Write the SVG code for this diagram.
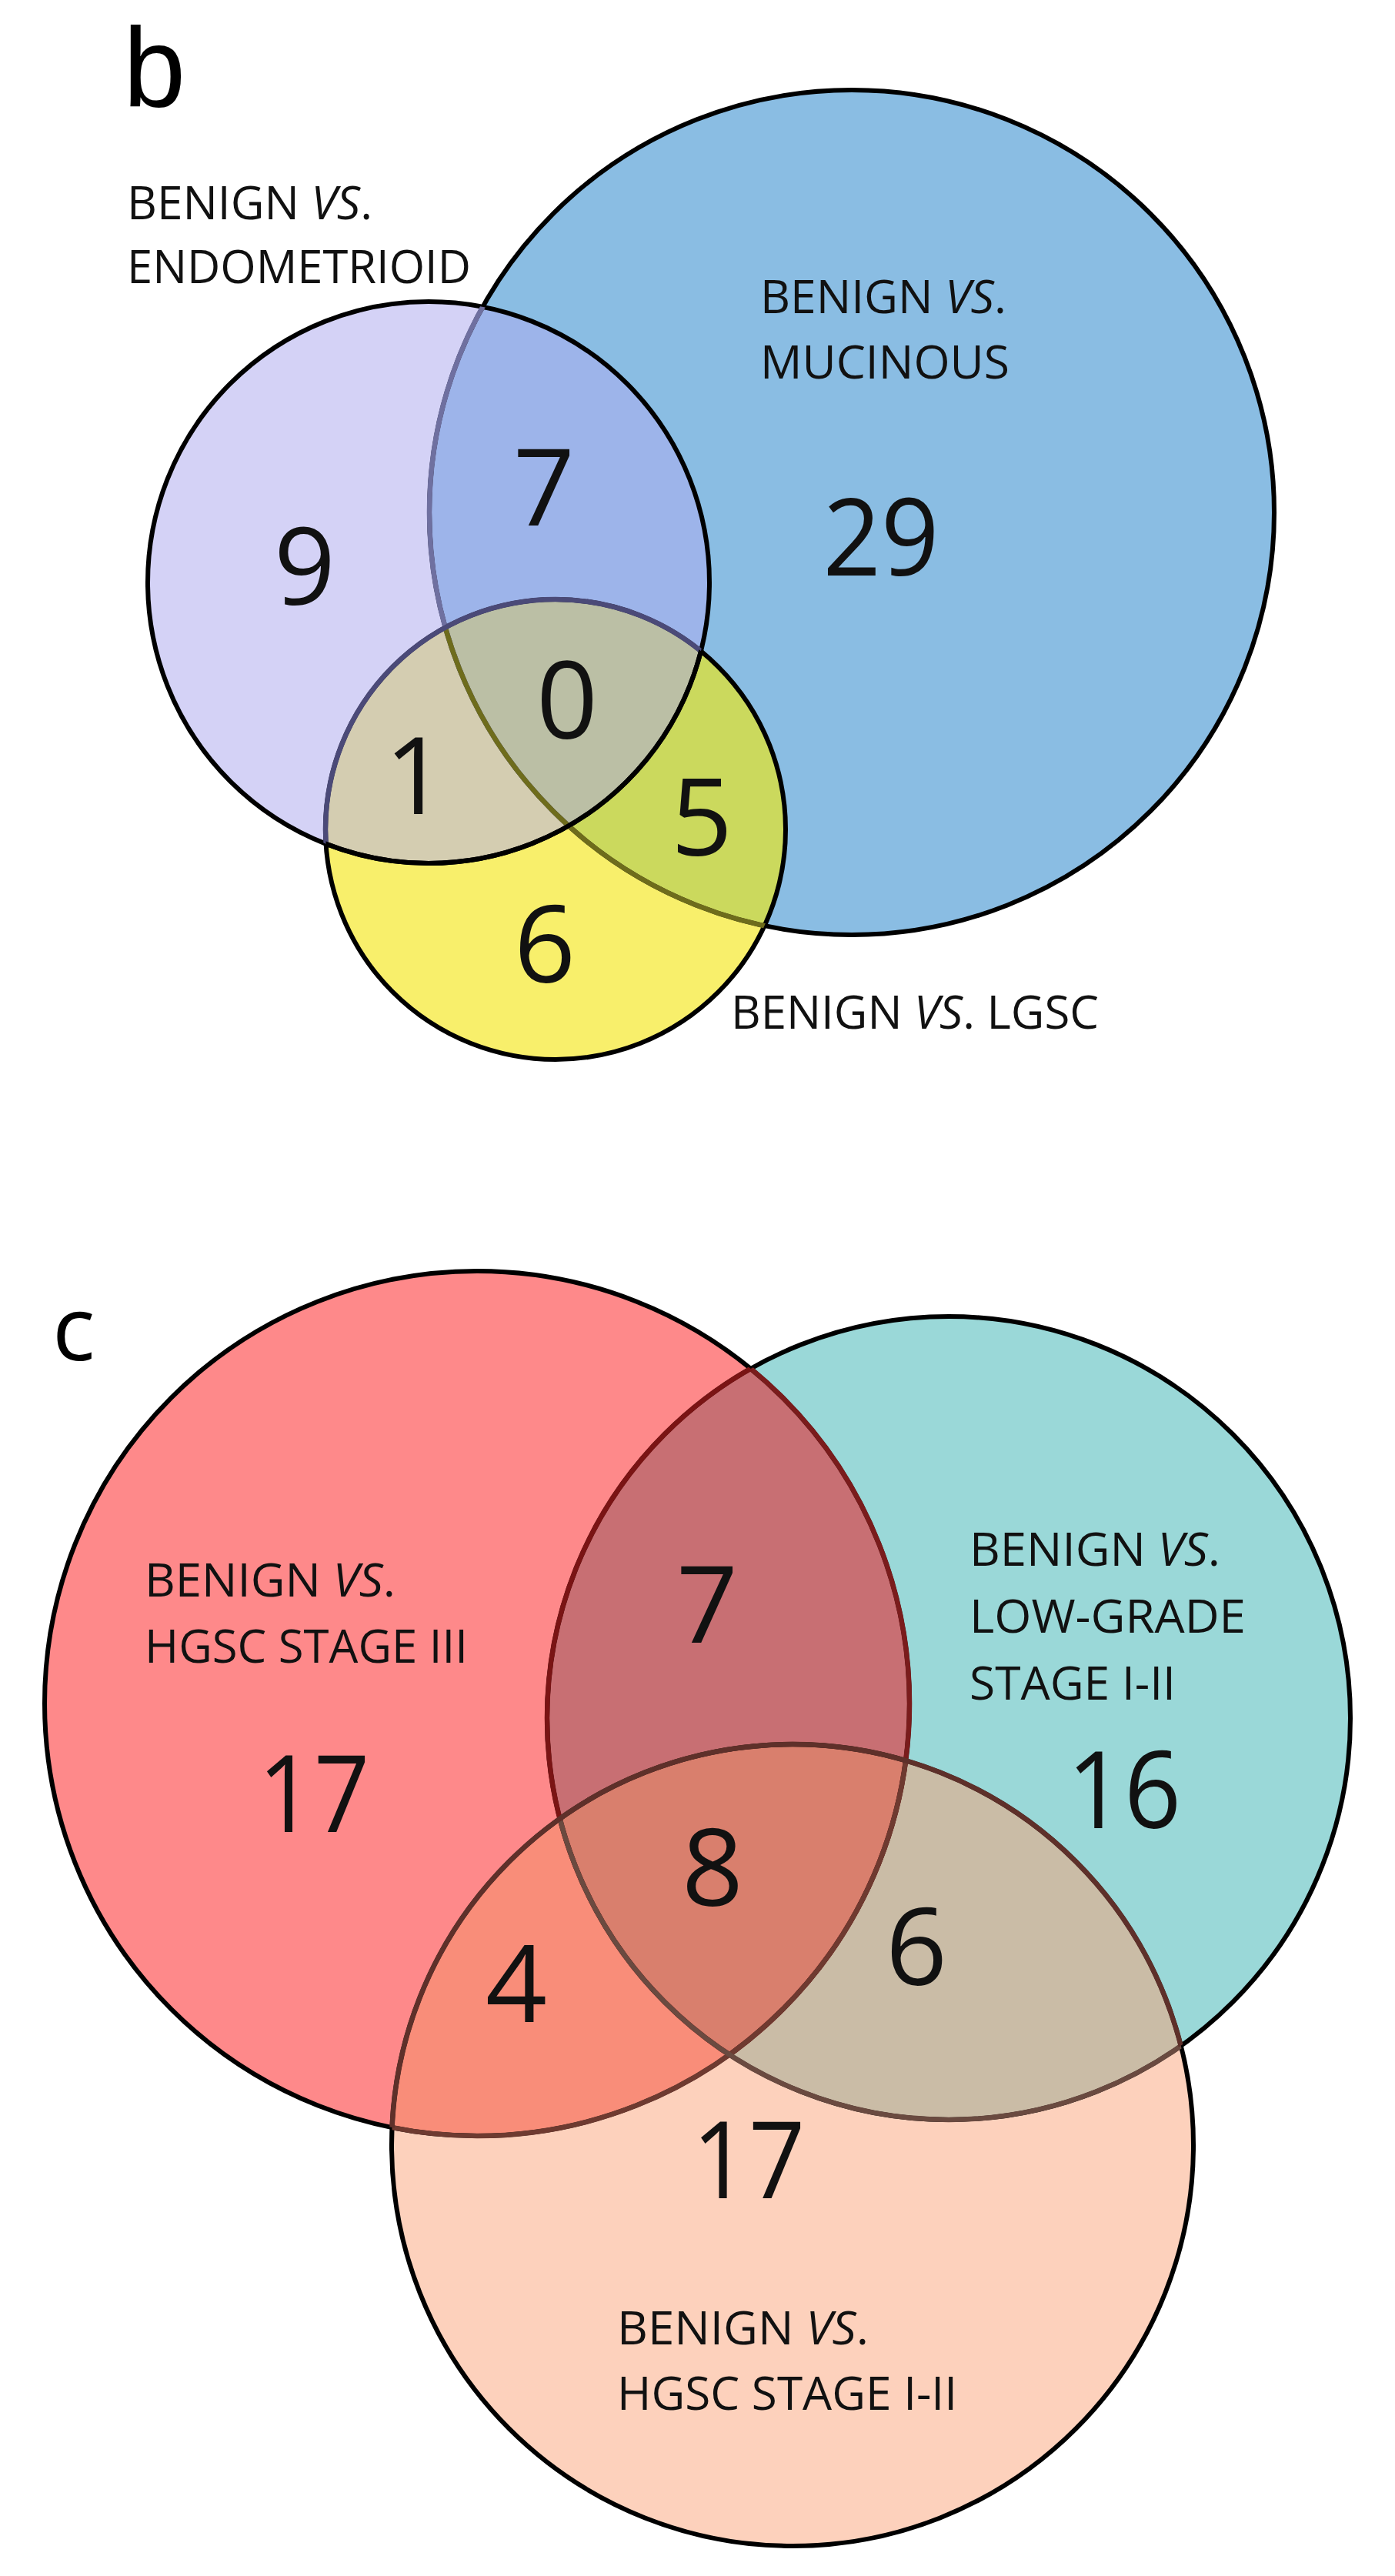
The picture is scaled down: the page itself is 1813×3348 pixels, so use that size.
<svg xmlns="http://www.w3.org/2000/svg" width="1813" height="3348" viewBox="0 0 1813 3348">
<style>
.lbl{font-family:"Open Sans","Liberation Sans",sans-serif;font-size:60px;fill:#111;}
.num{font-family:"Open Sans","Liberation Sans",sans-serif;font-size:140px;fill:#111;text-anchor:middle;}
.pan{fill:#000;}
.it{font-style:italic;}
.ol{fill:none;stroke:#000;stroke-width:6;}
</style>
<defs>
<clipPath id="cB"><circle cx="1107" cy="666" r="549"/></clipPath>
<clipPath id="cP"><circle cx="557" cy="757" r="365"/></clipPath>
<clipPath id="cY"><circle cx="722" cy="1078" r="299"/></clipPath>
<clipPath id="cR"><circle cx="620" cy="2214" r="562"/></clipPath>
<clipPath id="cT"><circle cx="1233" cy="2233" r="522"/></clipPath>
<clipPath id="cK"><circle cx="1030" cy="2788" r="521"/></clipPath>
</defs>
<rect width="1813" height="3348" fill="#fff"/>

<text class="pan" x="160" y="138" font-size="146" font-family="'Liberation Sans', Arial, sans-serif">b</text>
<text class="pan" x="68" y="1768" font-size="116" font-family="'Open Sans', 'Liberation Sans', sans-serif">c</text>

<!-- Panel b -->
<g id="mucinous">
<circle cx="1107" cy="666" r="549" fill="#8abde3"/>
</g>
<g id="endometrioid">
<circle cx="557" cy="757" r="365" fill="#d4d2f6"/>
</g>
<g id="lgsc">
<circle cx="722" cy="1078" r="299" fill="#f8ef6b"/>
</g>
<g id="overlaps-b">
<circle cx="557" cy="757" r="365" fill="#9db4ea" clip-path="url(#cB)"/>
<circle cx="722" cy="1078" r="299" fill="#cbd95d" clip-path="url(#cB)"/>
<circle cx="722" cy="1078" r="299" fill="#d4cdb1" clip-path="url(#cP)"/>
<g clip-path="url(#cB)"><circle cx="722" cy="1078" r="299" fill="#bbbfa5" clip-path="url(#cP)"/></g>
</g>
<g id="outlines-b">
<circle class="ol" cx="1107" cy="666" r="549"/>
<circle class="ol" cx="722" cy="1078" r="299"/>
<circle class="ol" cx="557" cy="757" r="365"/>
<circle cx="1107" cy="666" r="549" fill="none" stroke="#6f70a0" stroke-width="6.5" clip-path="url(#cP)"/>
<circle cx="1107" cy="666" r="549" fill="none" stroke="#6e6c1c" stroke-width="6.5" clip-path="url(#cY)"/>
<circle cx="722" cy="1078" r="299" fill="none" stroke="#4b4a78" stroke-width="6.5" clip-path="url(#cP)"/>
<circle cx="557" cy="757" r="365" fill="none" stroke="#000" stroke-width="6" clip-path="url(#cY)"/>
</g>

<g id="labels-b">
<text class="lbl" x="165" y="285" textLength="319" lengthAdjust="spacingAndGlyphs">BENIGN <tspan class="it">VS</tspan>.</text>
<text class="lbl" x="165" y="368" textLength="447" lengthAdjust="spacingAndGlyphs">ENDOMETRIOID</text>
<text class="lbl" x="988" y="407" textLength="320" lengthAdjust="spacingAndGlyphs">BENIGN <tspan class="it">VS</tspan>.</text>
<text class="lbl" x="988" y="492" textLength="324" lengthAdjust="spacingAndGlyphs">MUCINOUS</text>
<text class="lbl" x="950" y="1337" textLength="478" lengthAdjust="spacingAndGlyphs">BENIGN <tspan class="it">VS</tspan>. LGSC</text>
</g>
<g id="numbers-b">
<text class="num" x="396" y="786">9</text>
<text class="num" x="707" y="683">7</text>
<text class="num" x="1145" y="748" textLength="151" lengthAdjust="spacingAndGlyphs">29</text>
<text class="num" x="737" y="960">0</text>
<text class="num" x="540" y="1058">1</text>
<text class="num" x="912" y="1112">5</text>
<text class="num" x="708" y="1277">6</text>
</g>

<!-- Panel c -->
<g id="hgsc-iii">
<circle cx="620" cy="2214" r="562" fill="#fe898a"/>
</g>
<g id="low-grade">
<circle cx="1233" cy="2233" r="522" fill="#9ad8d8"/>
</g>
<g id="hgsc-i-ii">
<circle cx="1030" cy="2788" r="521" fill="#fdd1bc"/>
</g>
<g id="overlaps-c">
<circle cx="1233" cy="2233" r="522" fill="#c86f73" clip-path="url(#cR)"/>
<circle cx="1030" cy="2788" r="521" fill="#f98d79" clip-path="url(#cR)"/>
<circle cx="1030" cy="2788" r="521" fill="#cabca6" clip-path="url(#cT)"/>
<g clip-path="url(#cR)"><circle cx="1030" cy="2788" r="521" fill="#d97f6d" clip-path="url(#cT)"/></g>
</g>
<g id="outlines-c">
<circle class="ol" cx="620" cy="2214" r="562"/>
<circle class="ol" cx="1233" cy="2233" r="522"/>
<circle class="ol" cx="1030" cy="2788" r="521"/>
<circle cx="620" cy="2214" r="562" fill="none" stroke="#7a1c1c" stroke-width="6.5" clip-path="url(#cT)"/>
<circle cx="1233" cy="2233" r="522" fill="none" stroke="#7a1414" stroke-width="6.5" clip-path="url(#cR)"/>
<circle cx="620" cy="2214" r="562" fill="none" stroke="#6e3a30" stroke-width="6.5" clip-path="url(#cK)"/>
<circle cx="1233" cy="2233" r="522" fill="none" stroke="#6a4a40" stroke-width="6.5" clip-path="url(#cK)"/>
<circle cx="1030" cy="2788" r="521" fill="none" stroke="#5e302a" stroke-width="6.5" clip-path="url(#cR)"/>
<circle cx="1030" cy="2788" r="521" fill="none" stroke="#5e302a" stroke-width="6.5" clip-path="url(#cT)"/>
</g>

<g id="labels-c">
<text class="lbl" x="188" y="2075" textLength="326" lengthAdjust="spacingAndGlyphs">BENIGN <tspan class="it">VS</tspan>.</text>
<text class="lbl" x="188" y="2161" textLength="420" lengthAdjust="spacingAndGlyphs">HGSC STAGE III</text>
<text class="lbl" x="1260" y="2035" textLength="326" lengthAdjust="spacingAndGlyphs">BENIGN <tspan class="it">VS</tspan>.</text>
<text class="lbl" x="1260" y="2122" textLength="359" lengthAdjust="spacingAndGlyphs">LOW-GRADE</text>
<text class="lbl" x="1260" y="2209" textLength="268" lengthAdjust="spacingAndGlyphs">STAGE I-II</text>
<text class="lbl" x="802" y="3047" textLength="327" lengthAdjust="spacingAndGlyphs">BENIGN <tspan class="it">VS</tspan>.</text>
<text class="lbl" x="802" y="3132" textLength="442" lengthAdjust="spacingAndGlyphs">HGSC STAGE I-II</text>
</g>
<g id="numbers-c">
<text class="num" x="919" y="2135">7</text>
<text class="num" x="408" y="2381" textLength="145" lengthAdjust="spacingAndGlyphs">17</text>
<text class="num" x="1461" y="2376" textLength="148" lengthAdjust="spacingAndGlyphs">16</text>
<text class="num" x="926" y="2477">8</text>
<text class="num" x="1191" y="2580">6</text>
<text class="num" x="671" y="2628">4</text>
<text class="num" x="973" y="2857" textLength="147" lengthAdjust="spacingAndGlyphs">17</text>
</g>
<g id="connectors"/>
</svg>
